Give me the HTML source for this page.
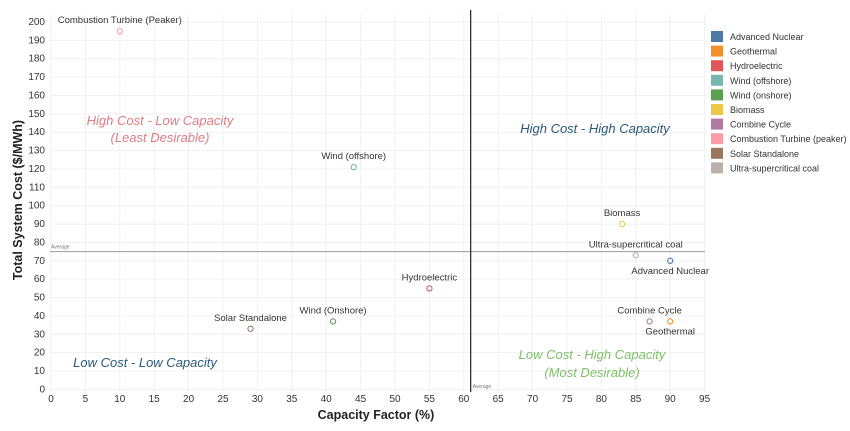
<!DOCTYPE html>
<html><head><meta charset="utf-8"><style>
html,body{margin:0;padding:0;background:#fff;width:850px;height:431px;overflow:hidden;font-family:"Liberation Sans",sans-serif}
svg text{font-family:"Liberation Sans",sans-serif}
</style></head><body>
<svg id="chart" width="850" height="431" xmlns="http://www.w3.org/2000/svg">
<g id="grid"></g>
<g id="axes"></g>
<g id="marks"></g>
<g id="legend"></g>
</svg>
<script>
const names=["Combustion Turbine (Peaker)","Wind (offshore)","Biomass","Ultra-supercritical coal","Advanced Nuclear","Hydroelectric","Wind (Onshore)","Solar Standalone","Combine Cycle","Geothermal"];
const capacity=[10,44,83,85,90,55,41,29,87,90];
const cost=[195,121,90,73,70,55,37,33,37,37];
const colors=["#f4a0a5","#72b7b2","#f2c44f","#bab0ac","#4e79a7","#e15759","#59a14f","#9c755f","#b07aa1","#f28e2b"];
const labelPos=["above","above","above","above","below","above","above","above","above","below"];
const xTicks=[0,5,10,15,20,25,30,35,40,45,50,55,60,65,70,75,80,85,90,95];
const yTicks=[0,10,20,30,40,50,60,70,80,90,100,110,120,130,140,150,160,170,180,190,200];
const avgX=61, avgY=75;
const legendNames=["Advanced Nuclear","Geothermal","Hydroelectric","Wind (offshore)","Wind (onshore)","Biomass","Combine Cycle","Combustion Turbine (peaker)","Solar Standalone","Ultra-supercritical coal"];
const legendColors=["#4e79a7","#f28e2b","#e15759","#76b7b2","#59a14f","#edc948","#b07aa1","#ff9da7","#9c755f","#bab0ac"];

const NS="http://www.w3.org/2000/svg";
const X0=51,XK=6.88,Y0=389.4,YK=1.837;
const xs=v=>X0+XK*v, ys=v=>Y0-YK*v;
const L=50,R=705,T=14,B=392;
function mk(tag,attrs,parent,text){const e=document.createElementNS(NS,tag);for(const k in attrs)e.setAttribute(k,attrs[k]);if(text!==undefined)e.textContent=text;parent.appendChild(e);return e;}
const grid=document.getElementById('grid'),axes=document.getElementById('axes'),marks=document.getElementById('marks'),leg=document.getElementById('legend');

xTicks.forEach(t=>{
  const g=mk('line',{x1:xs(t),x2:xs(t),y1:T,y2:B,stroke:'#f0f0f0','stroke-width':1},grid);
  
  
  const tx=mk('text',{x:xs(t),y:402,'font-size':10,fill:'#333','text-anchor':'middle'},axes,String(t));
  
  
});
yTicks.forEach(t=>{
  const g=mk('line',{x1:L,x2:R,y1:ys(t),y2:ys(t),stroke:'#f0f0f0','stroke-width':1},grid);
  
  
  const tx=mk('text',{x:45,y:ys(t)+3,'font-size':10,fill:'#333','text-anchor':'end'},axes,String(t));
  
  
});
let a=mk('line',{x1:L,x2:R,y1:ys(avgY),y2:ys(avgY),stroke:'#999','stroke-width':1},axes);


a=mk('text',{x:L+1,y:ys(avgY)-3,'font-size':5,fill:'#777'},axes,'Average');


a=mk('line',{x1:xs(avgX),x2:xs(avgX),y1:T-4,y2:B,stroke:'#222','stroke-width':1.2},axes);


a=mk('text',{x:xs(avgX)+2,y:B-4,'font-size':5,fill:'#777'},axes,'Average');


a=mk('text',{x:376,y:419,'font-size':12.5,'font-weight':'bold',fill:'#222','text-anchor':'middle'},axes,'Capacity Factor (%)');


a=mk('text',{x:22,y:200,'font-size':12.5,'font-weight':'bold',fill:'#222','text-anchor':'middle',transform:'rotate(-90 22 200)'},axes,'Total System Cost ($/MWh)');



const quads=[["High Cost - Low Capacity",160,125,"#e07b85"],["(Least Desirable)",160,142,"#e07b85"],["High Cost - High Capacity",595,133,"#2a5a7a"],["Low Cost - Low Capacity",145,367,"#2a5a7a"],["Low Cost - High Capacity",592,359,"#7fbf6a"],["(Most Desirable)",592,377,"#7fbf6a"]];
quads.forEach(q=>{
  const t=mk('text',{x:q[1],y:q[2],'font-size':13,'font-style':'italic',fill:q[3],'text-anchor':'middle'},axes,q[0]);
  
  
});

names.forEach((n,i)=>{
  const cx=xs(capacity[i]),cy=ys(cost[i]);
  const c=mk('circle',{cx:cx,cy:cy,r:2.6,fill:'none',stroke:colors[i],'stroke-width':1.1},marks);
  
  
  const above=labelPos[i]==='above';
  const t=mk('text',{x:cx,y:above?cy-8:cy+13,'font-size':9.5,fill:'#333','text-anchor':'middle'},marks,n);
  
  
});

legendNames.forEach((n,i)=>{
  const y=31+i*14.6;
  const r=mk('rect',{x:711,y:y,width:12,height:11,fill:legendColors[i]},leg);
  
  
  const t=mk('text',{x:730,y:y+9,'font-size':9,fill:'#333'},leg,n);
  
  
});
</script>
</body></html>
